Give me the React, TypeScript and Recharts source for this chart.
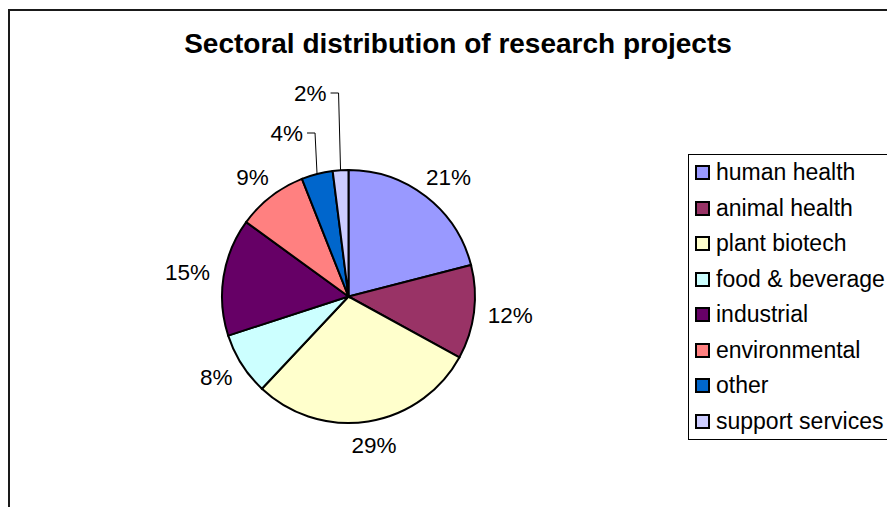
import React from 'react';
import { PieChart, Pie, Cell, Legend } from 'recharts';

const categories = [
  'human health',
  'animal health',
  'plant biotech',
  'food & beverage',
  'industrial',
  'environmental',
  'other',
  'support services',
];
const shares = [21, 12, 29, 8, 15, 9, 4, 2];
const colors = ['#9999FF', '#993366', '#FFFFCC', '#CCFFFF', '#660066', '#FF8080', '#0066CC', '#CCCCFF'];
const title = 'Sectoral distribution of research projects';

const rows = categories.map((name, i) => ({ name, value: shares[i] }));
const total = shares.reduce((a, b) => a + b, 0);
const smallIdx = shares.map((v, i) => (v / total < 0.05 ? i : -1)).filter((i) => i >= 0);

const FONT = '"Liberation Sans", Arial, Helvetica, sans-serif';
const LABEL_SIZE = 22.5;
const RAD = Math.PI / 180;

function textWidth(s: string) {
  let w = 0;
  for (const ch of s) w += ch === '%' ? 0.889 : 0.556;
  return w * LABEL_SIZE;
}

const renderLabel = (props: any) => {
  const { cx, cy, midAngle, outerRadius, percent, index } = props;
  const txt = `${Math.round(percent * 100)}%`;
  const c = Math.cos(midAngle * RAD);
  const s = Math.sin(midAngle * RAD);
  const k = smallIdx.indexOf(index);
  if (k >= 0) {
    const xe = cx + outerRadius * c;
    const ye = cy - outerRadius * s;
    const ly = cy - outerRadius - 37 - 40 * k;
    return (
      <g key={`lbl-${index}`}>
        <polyline
          points={`${xe},${ye} ${xe - 2},${ly} ${xe - 10},${ly}`}
          fill="none"
          stroke="#000"
          strokeWidth={1}
        />
        <text
          x={xe - 14}
          y={ly}
          textAnchor="end"
          dominantBaseline="central"
          fontFamily={FONT}
          fontSize={LABEL_SIZE}
          fill="#000"
        >
          {txt}
        </text>
      </g>
    );
  }
  const gap = 14;
  const hw = textWidth(txt) / 2;
  const hh = 10;
  const x = cx + (outerRadius + gap + hw) * c;
  const y = cy - (outerRadius + gap + hh) * s;
  return (
    <text
      key={`lbl-${index}`}
      x={x}
      y={y}
      textAnchor="middle"
      dominantBaseline="central"
      fontFamily={FONT}
      fontSize={LABEL_SIZE}
      fill="#000"
    >
      {txt}
    </text>
  );
};

const LegendBox = () => (
  <div
    style={{
      border: '1px solid #000',
      background: '#fff',
      fontFamily: FONT,
      fontSize: 23,
      color: '#000',
      width: 222,
      boxSizing: 'border-box',
    }}
  >
    {categories.map((name, i) => (
      <div key={name} style={{ display: 'flex', alignItems: 'center', height: 35.5, whiteSpace: 'nowrap' }}>
        <span
          style={{
            display: 'inline-block',
            width: 15,
            height: 15,
            boxSizing: 'border-box',
            border: '2px solid #000',
            background: colors[i],
            marginLeft: 6,
            marginRight: 6,
            flex: '0 0 auto',
          }}
        />
        <span>{name}</span>
      </div>
    ))}
  </div>
);

export default function App() {
  return (
    <div style={{ width: 887, height: 499, overflow: 'hidden', position: 'relative', top: 1 }}>
      <div
        style={{
          position: 'relative',
          width: 896,
          height: 500,
          border: '2px solid #1a1a1a',
          background: '#fff',
        }}
      >
        <PieChart width={896} height={496} margin={{ top: 0, right: 0, bottom: 0, left: 0 }}>
          <Pie
            data={rows}
            dataKey="value"
            nameKey="name"
            cx={338.5}
            cy={285.5}
            outerRadius={126.5}
            startAngle={90}
            endAngle={-270}
            stroke="#000"
            strokeWidth={2}
            label={renderLabel}
            labelLine={false}
            isAnimationActive={false}
          >
            {rows.map((r, i) => (
              <Cell key={r.name} fill={colors[i]} />
            ))}
          </Pie>
          <Legend
            content={() => <LegendBox />}
            wrapperStyle={{ position: 'absolute', left: 678, top: 143, width: 222 }}
          />
        </PieChart>
        <div
          style={{
            position: 'absolute',
            left: 0,
            top: 19,
            width: 896,
            textAlign: 'center',
            fontFamily: FONT,
            fontWeight: 'bold',
            fontSize: 28,
            lineHeight: '28px',
            color: '#000',
            whiteSpace: 'nowrap',
          }}
        >
          {title}
        </div>
      </div>
    </div>
  );
}
